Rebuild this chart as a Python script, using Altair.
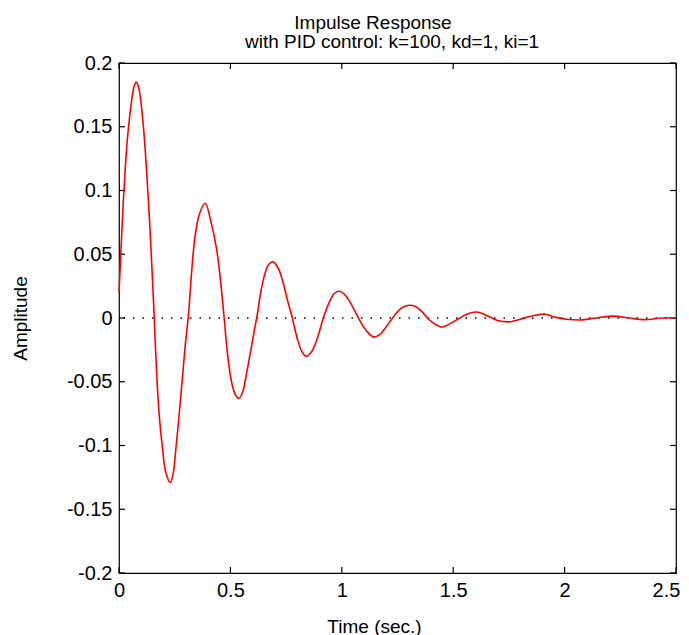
import altair as alt
import pandas as pd

# ---- data ----
time_s = [0.000, 0.008, 0.016, 0.024, 0.035, 0.046, 0.058, 0.068, 0.077, 0.088,
          0.100, 0.112, 0.124, 0.136, 0.147, 0.157, 0.168, 0.180, 0.195, 0.210,
          0.230, 0.243, 0.255, 0.268, 0.283, 0.297, 0.312, 0.325, 0.340, 0.360,
          0.387, 0.412, 0.439, 0.457, 0.472, 0.487, 0.505, 0.522, 0.539, 0.555,
          0.572, 0.591, 0.607, 0.621, 0.635, 0.655, 0.672, 0.691, 0.712, 0.733,
          0.756, 0.778, 0.800, 0.820, 0.840, 0.862, 0.890, 0.917, 0.943, 0.965,
          0.987, 1.010, 1.035, 1.060, 1.084, 1.110, 1.144, 1.170, 1.195, 1.220,
          1.241, 1.270, 1.301, 1.330, 1.360, 1.390, 1.420, 1.445, 1.470, 1.500,
          1.530, 1.560, 1.607, 1.650, 1.700, 1.756, 1.800, 1.853, 1.913, 1.960,
          2.010, 2.070, 2.140, 2.219, 2.290, 2.353, 2.440, 2.500]
amplitude = [0.020, 0.050, 0.080, 0.105, 0.135, 0.155, 0.172, 0.182, 0.185, 0.181,
             0.167, 0.145, 0.115, 0.080, 0.042, 0.005, -0.040, -0.075, -0.102, -0.121,
             -0.129, -0.122, -0.103, -0.080, -0.050, -0.022, 0.003, 0.034, 0.062, 0.081,
             0.090, 0.076, 0.053, 0.027, 0.000, -0.028, -0.050, -0.060, -0.063, -0.058,
             -0.044, -0.026, -0.010, 0.003, 0.019, 0.035, 0.042, 0.044, 0.040, 0.030,
             0.014, 0.000, -0.016, -0.026, -0.030, -0.027, -0.016, 0.000, 0.012, 0.019,
             0.021, 0.019, 0.013, 0.005, -0.003, -0.010, -0.015, -0.013, -0.008, -0.002,
             0.003, 0.008, 0.010, 0.009, 0.005, -0.001, -0.005, -0.007, -0.006, -0.003,
             0.000, 0.003, 0.0047, 0.002, -0.002, -0.003, -0.001, 0.0015, 0.003, 0.0005,
             -0.001, -0.0016, 0.000, 0.0015, 0.000, -0.0013, 0.000, 0.0002]

x_ticks = [0, 0.5, 1, 1.5, 2, 2.5]
y_ticks = [-0.2, -0.15, -0.1, -0.05, 0, 0.05, 0.1, 0.15, 0.2]
zero_level = [0]

title_lines = ["Impulse Response", "with PID control: k=100, kd=1, ki=1"]
x_title = "Time (sec.)"
y_title = "Amplitude"

W, H = 557, 510
FONT = "Liberation Sans"
TICK_LEN = 6

df = pd.DataFrame({"t": time_s, "amp": amplitude})
xt = pd.DataFrame({"t": x_ticks})
yt = pd.DataFrame({"amp": y_ticks})
zl = pd.DataFrame({"amp": zero_level})

xscale = alt.Scale(domain=[0, 2.5], nice=False, zero=False)
yscale = alt.Scale(domain=[-0.2, 0.2], nice=False, zero=False)

x_axis = alt.Axis(values=x_ticks, labelExpr="datum.value + ''", ticks=False, tickSize=0,
                  domain=False, grid=False, labelPadding=7, labelFontSize=20,
                  labelFont=FONT, labelColor="black", title=x_title, titleFont=FONT,
                  titleFontSize=19, titleFontWeight="normal", titleColor="black",
                  titleX=255, titleY=59, titleBaseline="alphabetic", titleAlign="center",
                  labelFlush=False,
                  labelOffset=alt.condition("datum.value == 2.5", alt.value(-10), alt.value(0)))
y_axis = alt.Axis(values=y_ticks, labelExpr="datum.value + ''", ticks=False, tickSize=0,
                  domain=False, grid=False, labelPadding=7, labelFontSize=20,
                  labelFont=FONT, labelColor="black", title=y_title, titleFont=FONT,
                  titleFontSize=19, titleFontWeight="normal", titleColor="black",
                  titleX=-93, titleY=255, titleBaseline="alphabetic", titleAlign="center",
                  titleAngle=270, labelFlush=False)

line = alt.Chart(df).mark_line(color="#ff0000", strokeWidth=1.6, interpolate="catmull-rom").encode(
    x=alt.X("t:Q", scale=xscale, axis=x_axis),
    y=alt.Y("amp:Q", scale=yscale, axis=y_axis),
)

zero = alt.Chart(zl).mark_rule(color="black", strokeWidth=1.3, strokeDash=[1.5, 8]).encode(
    y=alt.Y("amp:Q", scale=yscale)
)

tick_style = dict(color="black", strokeWidth=1.2)
bottom_ticks = alt.Chart(xt).mark_rule(**tick_style).encode(
    x=alt.X("t:Q", scale=xscale), y=alt.value(H), y2=alt.value(H - TICK_LEN))
top_ticks = alt.Chart(xt).mark_rule(**tick_style).encode(
    x=alt.X("t:Q", scale=xscale), y=alt.value(0), y2=alt.value(TICK_LEN))
left_ticks = alt.Chart(yt).mark_rule(**tick_style).encode(
    y=alt.Y("amp:Q", scale=yscale), x=alt.value(0), x2=alt.value(TICK_LEN))
right_ticks = alt.Chart(yt).mark_rule(**tick_style).encode(
    y=alt.Y("amp:Q", scale=yscale), x=alt.value(W - TICK_LEN), x2=alt.value(W))

# two title lines, placed as MATLAB placed them (first line left of the second's centre)
text_style = dict(font=FONT, fontSize=19, color="black", align="center", baseline="alphabetic")
title_top = alt.Chart(pd.DataFrame({"label": [title_lines[0]]})).mark_text(**text_style).encode(
    text="label:N", x=alt.value(254), y=alt.value(-34))
title_bottom = alt.Chart(pd.DataFrame({"label": [title_lines[1]]})).mark_text(**text_style).encode(
    text="label:N", x=alt.value(273), y=alt.value(-15))

chart = alt.layer(zero, bottom_ticks, top_ticks, left_ticks, right_ticks, line,
                  title_top, title_bottom).properties(
    width=W,
    height=H,
    padding={"left": 111, "top": 55, "right": 5, "bottom": 62},
    autosize=alt.AutoSizeParams(type="none"),
    background="white",
).configure_view(
    stroke="black", strokeWidth=1.2
)

chart.save("out.html", embed_options={"renderer": "svg", "actions": False})
